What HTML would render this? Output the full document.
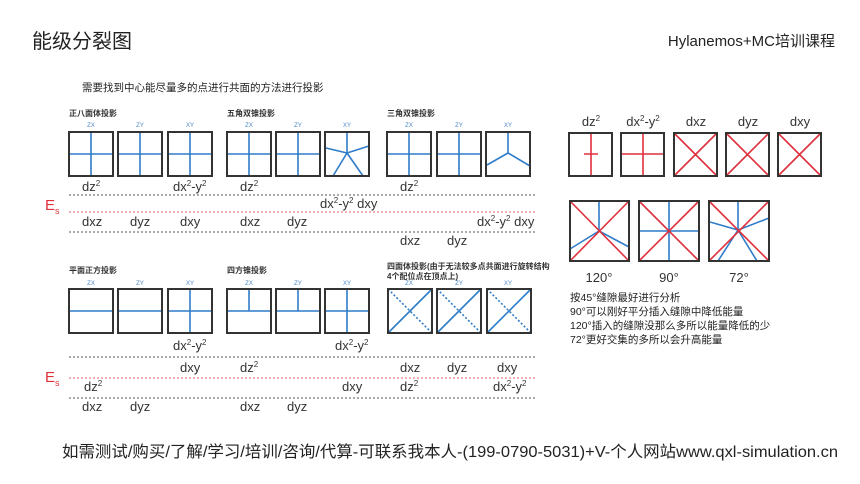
<!DOCTYPE html>
<html><head><meta charset="utf-8"><style>
html,body{margin:0;padding:0;background:#fff;}
svg{display:block;}
text{font-family:"Liberation Sans","Noto Sans CJK SC",sans-serif;}
.l{font-size:13px;fill:#333;}
.ax{font-size:6px;fill:#4a86c8;}
.t{font-size:8px;fill:#333;font-weight:bold;}
.b{fill:none;stroke:#333;stroke-width:2;}
.bl{stroke:#2f7cc9;stroke-width:1.6;fill:none;}
.rd{stroke:#e0303c;stroke-width:1.6;fill:none;}
.dot{stroke:#555;stroke-width:1;stroke-dasharray:2 2;}
.pk{stroke:#e0606e;stroke-width:1;stroke-dasharray:2 2;}
.s{font-size:8px;}
</style></head><body>
<svg width="860" height="484" viewBox="0 0 860 484" xmlns="http://www.w3.org/2000/svg">
<text x="32" y="48" style="font-size:20px;fill:#222">能级分裂图</text>
<text x="835" y="46" text-anchor="end" style="font-size:15px;fill:#222">Hylanemos+MC培训课程</text>
<text x="82" y="91" style="font-size:10.5px;fill:#222">需要找到中心能尽量多的点进行共面的方法进行投影</text>

<!-- top section titles -->
<text class="t" x="69" y="116">正八面体投影</text>
<text class="t" x="227" y="116">五角双锥投影</text>
<text class="t" x="387" y="116">三角双锥投影</text>
<g class="ax" text-anchor="middle">
<text x="91" y="127">ZX</text><text x="140" y="127">ZY</text><text x="190" y="127">XY</text>
<text x="249" y="127">ZX</text><text x="298" y="127">ZY</text><text x="347" y="127">XY</text>
<text x="409" y="127">ZX</text><text x="459" y="127">ZY</text><text x="508" y="127">XY</text>
</g>
<!-- top boxes -->
<g>
<path class="bl" d="M69 154H113M91 132V176"/><rect class="b" x="69" y="132" width="44" height="44"/>
<path class="bl" d="M118 154H162M140 132V176"/><rect class="b" x="118" y="132" width="44" height="44"/>
<path class="bl" d="M168 154H212M190 132V176"/><rect class="b" x="168" y="132" width="44" height="44"/>
<path class="bl" d="M227 154H271M249 132V176"/><rect class="b" x="227" y="132" width="44" height="44"/>
<path class="bl" d="M276 154H320M298 132V176"/><rect class="b" x="276" y="132" width="44" height="44"/>
<path class="bl" d="M347 153L347 132M347 153L326 148M347 153L369 146M347 153L333 176M347 153L363 176"/><rect class="b" x="325" y="132" width="44" height="44"/>
<path class="bl" d="M387 154H431M409 132V176"/><rect class="b" x="387" y="132" width="44" height="44"/>
<path class="bl" d="M437 154H481M459 132V176"/><rect class="b" x="437" y="132" width="44" height="44"/>
<path class="bl" d="M508 153L508 132M508 153L487 165M508 153L530 166"/><rect class="b" x="486" y="132" width="44" height="44"/>
</g>
<line class="dot" x1="69" y1="195" x2="535" y2="195"/>
<line class="pk" x1="69" y1="212" x2="535" y2="212"/>
<line class="dot" x1="69" y1="232" x2="535" y2="232"/>
<text x="45" y="210" style="font-size:15px;fill:#e0303c">E<tspan style="font-size:9px" dy="4">s</tspan></text>
<g class="l">
<text x="82" y="191">dz<tspan class="s" dy="-5">2</tspan></text>
<text x="173" y="191">dx<tspan class="s" dy="-5">2</tspan><tspan dy="5">-y</tspan><tspan class="s" dy="-5">2</tspan></text>
<text x="240" y="191">dz<tspan class="s" dy="-5">2</tspan></text>
<text x="400" y="191">dz<tspan class="s" dy="-5">2</tspan></text>
<text x="320" y="208">dx<tspan class="s" dy="-5">2</tspan><tspan dy="5">-y</tspan><tspan class="s" dy="-5">2</tspan><tspan dy="5"> dxy</tspan></text>
<text x="82" y="226">dxz</text><text x="130" y="226">dyz</text><text x="180" y="226">dxy</text>
<text x="240" y="226">dxz</text><text x="287" y="226">dyz</text>
<text x="477" y="226">dx<tspan class="s" dy="-5">2</tspan><tspan dy="5">-y</tspan><tspan class="s" dy="-5">2</tspan><tspan dy="5"> dxy</tspan></text>
<text x="400" y="245">dxz</text><text x="447" y="245">dyz</text>
</g>

<!-- bottom section -->
<text class="t" x="69" y="273">平面正方投影</text>
<text class="t" x="227" y="273">四方锥投影</text>
<text class="t" x="387" y="269">四面体投影(由于无法较多点共面进行旋转结构</text>
<text class="t" x="387" y="279">4个配位点在顶点上)</text>
<g class="ax" text-anchor="middle">
<text x="91" y="285">ZX</text><text x="140" y="285">ZY</text><text x="190" y="285">XY</text>
<text x="249" y="285">ZX</text><text x="298" y="285">ZY</text><text x="347" y="285">XY</text>
<text x="409" y="285">ZX</text><text x="459" y="285">ZY</text><text x="508" y="285">XY</text>
</g>
<g>
<path class="bl" d="M69 311H113"/><rect class="b" x="69" y="289" width="44" height="44"/>
<path class="bl" d="M118 311H162"/><rect class="b" x="118" y="289" width="44" height="44"/>
<path class="bl" d="M168 311H212M190 289V333"/><rect class="b" x="168" y="289" width="44" height="44"/>
<path class="bl" d="M227 311H271M249 289V311"/><rect class="b" x="227" y="289" width="44" height="44"/>
<path class="bl" d="M276 311H320M298 289V311"/><rect class="b" x="276" y="289" width="44" height="44"/>
<path class="bl" d="M325 311H369M347 289V333"/><rect class="b" x="325" y="289" width="44" height="44"/>
<path class="bl" d="M388 333L432 289"/><path class="bl" style="stroke-dasharray:2 2" d="M388 289L432 333"/><rect class="b" x="388" y="289" width="44" height="44"/>
<path class="bl" d="M437 333L481 289"/><path class="bl" style="stroke-dasharray:2 2" d="M437 289L481 333"/><rect class="b" x="437" y="289" width="44" height="44"/>
<path class="bl" d="M487 333L531 289"/><path class="bl" style="stroke-dasharray:2 2" d="M487 289L531 333"/><rect class="b" x="487" y="289" width="44" height="44"/>
</g>
<line class="dot" x1="69" y1="357" x2="535" y2="357"/>
<line class="pk" x1="69" y1="378" x2="535" y2="378"/>
<line class="dot" x1="69" y1="398" x2="535" y2="398"/>
<text x="45" y="382" style="font-size:15px;fill:#e0303c">E<tspan style="font-size:9px" dy="4">s</tspan></text>
<g class="l">
<text x="173" y="350">dx<tspan class="s" dy="-5">2</tspan><tspan dy="5">-y</tspan><tspan class="s" dy="-5">2</tspan></text>
<text x="335" y="350">dx<tspan class="s" dy="-5">2</tspan><tspan dy="5">-y</tspan><tspan class="s" dy="-5">2</tspan></text>
<text x="180" y="372">dxy</text>
<text x="240" y="372">dz<tspan class="s" dy="-5">2</tspan></text>
<text x="400" y="372">dxz</text><text x="447" y="372">dyz</text><text x="497" y="372">dxy</text>
<text x="84" y="391">dz<tspan class="s" dy="-5">2</tspan></text>
<text x="342" y="391">dxy</text>
<text x="400" y="391">dz<tspan class="s" dy="-5">2</tspan></text>
<text x="493" y="391">dx<tspan class="s" dy="-5">2</tspan><tspan dy="5">-y</tspan><tspan class="s" dy="-5">2</tspan></text>
<text x="82" y="411">dxz</text><text x="130" y="411">dyz</text>
<text x="240" y="411">dxz</text><text x="287" y="411">dyz</text>
</g>

<!-- right panel -->
<g class="l" text-anchor="middle">
<text x="591" y="126">dz<tspan class="s" dy="-5">2</tspan></text>
<text x="643" y="126">dx<tspan class="s" dy="-5">2</tspan><tspan dy="5">-y</tspan><tspan class="s" dy="-5">2</tspan></text>
<text x="696" y="126">dxz</text><text x="748" y="126">dyz</text><text x="800" y="126">dxy</text>
</g>
<g>
<path class="rd" d="M591 133V176M584 154H598"/><rect class="b" x="569" y="133" width="43" height="43"/>
<path class="rd" d="M621 154H664M643 133V176"/><rect class="b" x="621" y="133" width="43" height="43"/>
<path class="rd" d="M674 133L717 176M717 133L674 176"/><rect class="b" x="674" y="133" width="43" height="43"/>
<path class="rd" d="M726 133L769 176M769 133L726 176"/><rect class="b" x="726" y="133" width="43" height="43"/>
<path class="rd" d="M778 133L821 176M821 133L778 176"/><rect class="b" x="778" y="133" width="43" height="43"/>
</g>
<g>
<path class="bl" d="M599 231V201M599 231L570 249M599 231L629 247"/><path class="rd" d="M570 201L629 261M629 201L570 261"/><rect class="b" x="570" y="201" width="59" height="60"/>
<path class="bl" d="M669 201V261M639 231H699"/><path class="rd" d="M639 201L699 261M699 201L639 261"/><rect class="b" x="639" y="201" width="60" height="60"/>
<path class="bl" d="M738 230V201M738 230L710 222M738 230L769 218M738 230L718 261M738 230L757 261"/><path class="rd" d="M709 201L769 261M769 201L709 261"/><rect class="b" x="709" y="201" width="60" height="60"/>
</g>
<g class="l" text-anchor="middle">
<text x="599" y="282">120°</text><text x="669" y="282">90°</text><text x="739" y="282">72°</text>
</g>
<g style="font-size:10.5px;fill:#222">
<text x="570" y="301">按45°缝隙最好进行分析</text>
<text x="570" y="315">90°可以刚好平分插入缝隙中降低能量</text>
<text x="570" y="329">120°插入的缝隙没那么多所以能量降低的少</text>
<text x="570" y="343">72°更好交集的多所以会升高能量</text>
</g>

<text x="62" y="457" textLength="776" lengthAdjust="spacingAndGlyphs" style="font-size:16px;fill:#222">如需测试/购买/了解/学习/培训/咨询/代算-可联系我本人-(199-0790-5031)+V-个人网站www.qxl-simulation.cn</text>
</svg>
</body></html>
